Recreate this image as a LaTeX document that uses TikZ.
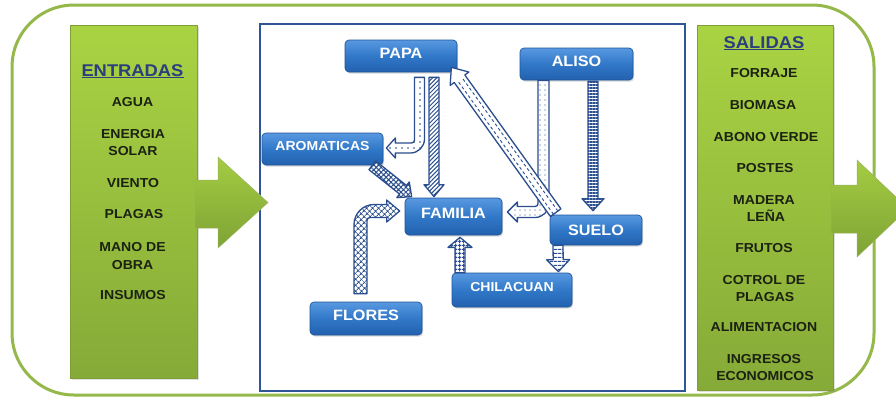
\documentclass[tikz,border=0pt]{standalone}
\usepackage{fontspec}
\newfontfamily\lab{Liberation Sans}[FakeStretch=1.08]
\usetikzlibrary{calc,patterns.meta,shadows}
\definecolor{framegreen}{HTML}{94B84A}
\definecolor{coltop}{HTML}{AAD343}
\definecolor{colbot}{HTML}{86AA38}
\definecolor{coledge}{HTML}{7F9F35}
\definecolor{arrtop}{HTML}{A4CC42}
\definecolor{arrbot}{HTML}{7FA335}
\definecolor{boxtop}{HTML}{5898E0}
\definecolor{boxmid}{HTML}{3178C8}
\definecolor{boxbot}{HTML}{2261AE}
\definecolor{boxedge}{HTML}{1E569A}
\definecolor{arrowblue}{HTML}{2A4E8E}
\definecolor{panelblue}{HTML}{2F5597}
\definecolor{headblue}{HTML}{2B3F7E}
\definecolor{itemtext}{HTML}{1C2212}
% straight block arrow: #1 options, #2 start, #3 tip, #4 half shaft, #5 half head, #6 head length
\newcommand\sarrow[6]{%
  \coordinate (hb) at ($(#3)!#6!(#2)$);
  \path[arrowshape,#1] ($(#2)!#4!90:(#3)$) -- ($(hb)!#4!-90:(#2)$) -- ($(hb)!#5!-90:(#2)$) -- (#3)
     -- ($(hb)!#5!90:(#2)$) -- ($(hb)!#4!90:(#2)$) -- ($(#2)!#4!-90:(#3)$) -- cycle;
}
% elbow block arrow: #1 options, #2 start, #3 tip, #4 x sign, #5 y sign, #6 half shaft, #7 half head, #8 head length, #9 outer radius
\newcommand\earrow[9]{%
  \path[arrowshape,#1] let \p1=(#2), \p2=(#3) in
    ({\x1-#4*#6},{\y1}) -- ({\x1-#4*#6},{\y2+#5*#6-#5*#9})
    .. controls ({\x1-#4*#6},{\y2+#5*#6-#5*0.45*#9}) and ({\x1-#4*#6+#4*0.45*#9},{\y2+#5*#6}) ..
    ({\x1-#4*#6+#4*#9},{\y2+#5*#6}) -- ({\x2-#4*#8},{\y2+#5*#6}) -- ({\x2-#4*#8},{\y2+#5*#7})
    -- (\x2,\y2) -- ({\x2-#4*#8},{\y2-#5*#7}) -- ({\x2-#4*#8},{\y2-#5*#6})
    -- ({\x1+#4*#6+#4*3pt},{\y2-#5*#6})
    .. controls ({\x1+#4*#6+#4*1.3pt},{\y2-#5*#6}) and ({\x1+#4*#6},{\y2-#5*#6-#5*1.3pt}) ..
    ({\x1+#4*#6},{\y2-#5*#6-#5*3pt}) -- ({\x1+#4*#6},{\y1}) -- cycle;
}
\begin{document}
\begin{tikzpicture}[x=1pt,y=-1pt,
  arrowshape/.style={draw=arrowblue, line width=1.3pt, line join=round, preaction={fill=white}, pattern color=arrowblue},
  bluebox/.style={rounded corners=4pt, draw=boxedge, line width=0.7pt, top color=boxtop, bottom color=boxbot, middle color=boxmid,
    text=white, font=\lab\bfseries\fontsize{15}{15}\selectfont, inner sep=0pt, text height=11pt, text depth=7pt,
    drop shadow={shadow xshift=1.2pt, shadow yshift=-1.6pt, opacity=0.3}},
  smallbox/.style={bluebox, font=\lab\bfseries\fontsize{13}{13}\selectfont, text height=9.5pt, text depth=6pt},
  column/.style={draw=coledge, line width=0.6pt, top color=coltop, bottom color=colbot,
    drop shadow={shadow xshift=1.5pt, shadow yshift=-1.5pt, opacity=0.25}},
  bigarrow/.style={top color=arrtop, bottom color=arrbot, draw=coledge!80!white, line width=0.5pt},
  item/.style={font=\lab\bfseries\fontsize{13}{13}\selectfont, text=itemtext, inner sep=0pt, text height=9.3pt, text depth=0pt},
  head/.style={font=\lab\bfseries\fontsize{17}{17}\selectfont, text=headblue, inner sep=0pt, text height=12.2pt, text depth=0pt},
  dashline/.style={arrowblue, line width=0.9pt, dash pattern=on 3pt off 2.5pt}]
\useasboundingbox (0,0) rectangle (896,400);
\clip (0,0) rectangle (896,400);
\fill[white] (0,0) rectangle (896,400);
% outer frame
\draw[framegreen, line width=3pt, rounded corners=62pt] (12,5) rectangle (874,395);
% central panel
\draw[panelblue, line width=1.6pt, fill=white] (260,24) rectangle (685,391);
% columns
\path[column] (70,25) rectangle (197,378);
\path[column] (697,25) rectangle (833,390);
% big arrows
\path[bigarrow] (195,180) -- (218,180) -- (218,157) -- (268,202.5) -- (218,248) -- (218,228) -- (195,228) -- cycle;
\path[bigarrow] (831,185) -- (857,185) -- (857,160) -- (908,208.5) -- (857,257) -- (857,233) -- (831,233) -- cycle;
% left column texts
\node[head] (entradas) at (132.5,70) {\underline{ENTRADAS}};
\node[item] (agua) at (132.5,102) {AGUA};
\node[item] (energia) at (133,134) {ENERGIA};
\node[item] (solar) at (133,151) {SOLAR};
\node[item] (viento) at (133,183) {VIENTO};
\node[item] (plagas) at (134,214) {PLAGAS};
\node[item] (mano) at (132.5,247) {MANO DE};
\node[item] (obra) at (132.5,265) {OBRA};
\node[item] (insumos) at (133,295) {INSUMOS};
% right column texts
\node[head] (salidas) at (764,42) {\underline{SALIDAS}};
\node[item] (forraje) at (764,73) {FORRAJE};
\node[item] (biomasa) at (763,105) {BIOMASA};
\node[item] (abono) at (766,137) {ABONO VERDE};
\node[item] (postes) at (765,168) {POSTES};
\node[item] (madera) at (764,200) {MADERA};
\node[item] (lena) at (766,217) {LEÑA};
\node[item] (frutos) at (764,248) {FRUTOS};
\node[item] (cotrol) at (764,280) {COTROL DE};
\node[item] (plagas2) at (765,297) {PLAGAS};
\node[item] (alim) at (764,327) {ALIMENTACION};
\node[item] (ingresos) at (764,359) {INGRESOS};
\node[item] (econ) at (765,376) {ECONOMICOS};
% blue boxes
\node[bluebox, minimum width=112pt, minimum height=32pt] (papa) at (401,56) {PAPA};
\node[bluebox, minimum width=113pt, minimum height=32pt] (aliso) at (576.5,64) {ALISO};
\node[smallbox, minimum width=121pt, minimum height=32pt] (aromaticas) at (322.5,149) {AROMATICAS};
\node[bluebox, minimum width=97pt, minimum height=37pt] (familia) at (453.5,216.5) {FAMILIA};
\node[bluebox, minimum width=92pt, minimum height=30pt, text depth=1pt] (suelo) at (596,230) {SUELO};
\node[smallbox, minimum width=120pt, minimum height=34pt] (chilacuan) at (512,290) {CHILACUAN};
\node[bluebox, minimum width=112pt, minimum height=33pt] (flores) at (366,318.5) {FLORES};
% arrow end points
\coordinate (s1) at ([xshift=18.5pt,yshift=-5pt]papa.south);
\coordinate (t1) at ([xshift=3pt,yshift=1pt]aromaticas.east);
\coordinate (s2) at ([xshift=33pt,yshift=-5pt]papa.south);
\coordinate (t2) at ([xshift=-19.5pt,yshift=1pt]familia.north);
\coordinate (s3) at ([xshift=-11pt]aromaticas.south east);
\coordinate (t3) at ([xshift=7pt,yshift=1pt]familia.north west);
\coordinate (s4) at ([xshift=6pt,yshift=2pt]suelo.north west);
\coordinate (t4) at ([xshift=-6pt,yshift=5pt]papa.south east);
\coordinate (s5) at ([xshift=-33pt]aliso.south);
\coordinate (t5) at ([xshift=5pt,yshift=4.5pt]familia.east);
\coordinate (s6) at ([xshift=16.5pt,yshift=-1pt]aliso.south);
\coordinate (t6) at ([xshift=-3pt,yshift=4pt]suelo.north);
\coordinate (s7) at ([xshift=-5.5pt,yshift=8pt]flores.north);
\coordinate (t7) at ([xshift=-5pt,yshift=5.5pt]familia.west);
\coordinate (s8) at ([xshift=-52pt]chilacuan.north);
\coordinate (t8) at ([xshift=6.5pt,yshift=-2pt]familia.south);
\coordinate (s9) at ([xshift=-38pt]suelo.south);
\coordinate (t9) at ([xshift=-14pt,yshift=1pt]chilacuan.north east);
% arrows
\earrow{pattern={Dots[distance=6pt,radius=0.8pt]}}{s1}{t1}{(-1)}{(-1)}{5pt}{10pt}{9pt}{14pt}
\sarrow{pattern={Lines[angle=45,distance=3pt,line width=1pt]}}{s2}{t2}{5pt}{10pt}{12pt}
\sarrow{pattern={Hatch[angle=45,distance=3.5pt,line width=1pt]}}{s3}{t3}{5.5pt}{10pt}{11pt}
\earrow{pattern={Dots[distance=5pt,radius=0.7pt]}}{s5}{t5}{(-1)}{(-1)}{5.5pt}{10pt}{10pt}{14pt}
\sarrow{pattern={Lines[angle=0,distance=3pt,line width=1.1pt]}}{s6}{t6}{5pt}{11pt}{12pt}
\earrow{pattern={Hatch[angle=45,distance=4pt,line width=1pt]}}{s7}{t7}{1}{1}{6.5pt}{11pt}{13pt}{20pt}
\sarrow{pattern={Hatch[angle=0,distance=4pt,line width=1.3pt]}}{s8}{t8}{5pt}{12pt}{10pt}
\sarrow{pattern={Lines[angle=0,distance=4pt,line width=1.4pt]}}{s9}{t9}{5pt}{11.5pt}{12pt}
\sarrow{}{s4}{t4}{6.5pt}{11.5pt}{14pt}
\draw[dashline] ($(s4)!2.7pt!90:(hb)$) -- ($(hb)!2.7pt!-90:(s4)$);
\draw[dashline] ($(s4)!2.7pt!-90:(hb)$) -- ($(hb)!2.7pt!90:(s4)$);
\end{tikzpicture}
\end{document}
